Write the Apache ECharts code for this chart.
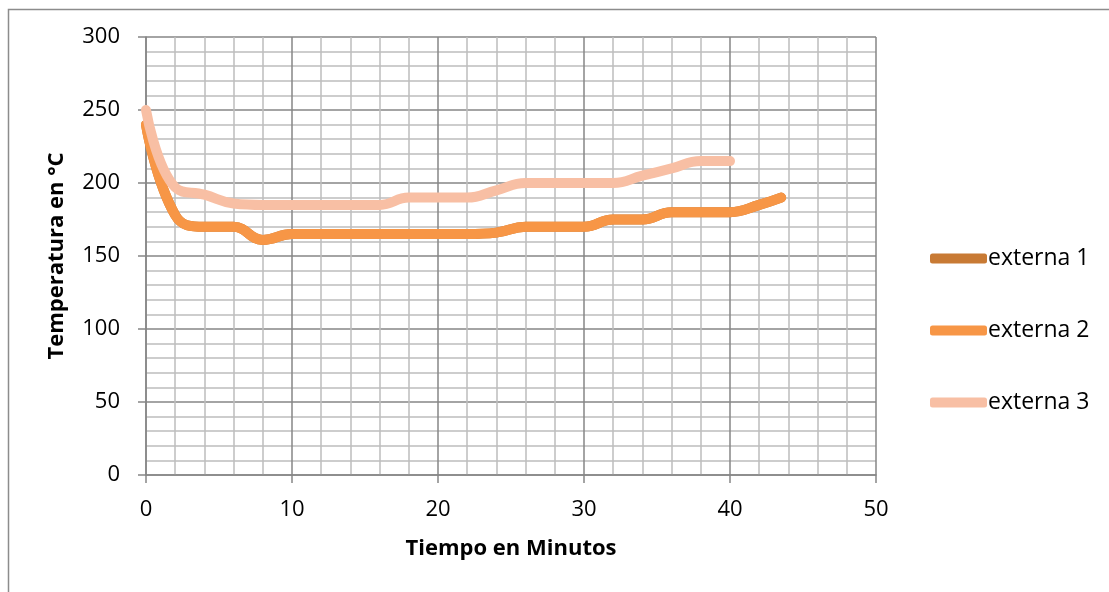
<!DOCTYPE html>
<html>
<head>
<meta charset="utf-8">
<script src="https://cdn.jsdelivr.net/npm/echarts@6/dist/echarts.min.js"></script>
<style>html,body{margin:0;padding:0;background:#fff}#c{width:1109px;height:592px}</style>
</head>
<body>
<div id="c"></div>
<script>
const seriesNames = ['externa 1', 'externa 2', 'externa 3'];
const timeA = [0, 2, 4, 6, 8, 10, 12, 14, 16, 18, 20, 22, 24, 26, 28, 30, 32, 34, 36, 38, 40, 42, 43.5];
const externa1 = [240, 178, 170, 170, 161, 165, 165, 165, 165, 165, 165, 165, 166, 170, 170, 170, 175, 175, 180, 180, 180, 185, 190];
const externa2 = [240, 178, 170, 170, 161, 165, 165, 165, 165, 165, 165, 165, 166, 170, 170, 170, 175, 175, 180, 180, 180, 185, 190];
const timeB = [0, 2, 4, 6, 8, 10, 12, 14, 16, 18, 20, 22, 24, 26, 28, 30, 32, 34, 36, 38, 40];
const externa3 = [250, 197, 192, 186, 185, 185, 185, 185, 185, 190, 190, 190, 195, 200, 200, 200, 200, 205, 210, 215, 215];
const xTicks = [0, 10, 20, 30, 40, 50];
const yTicks = [0, 50, 100, 150, 200, 250, 300];

const colors = ['#C87A34', '#F79646', '#F8BFA4'];
const pairs = (xs, ys) => xs.map((x, i) => [x, ys[i]]);
const font = '"Open Sans", "Noto Sans", sans-serif';
const fs = 22;

const chart = echarts.init(document.getElementById('c'), null, {renderer: 'canvas'});
chart.setOption({
  animation: false,
  backgroundColor: '#fff',
  graphic: [{
    type: 'rect', left: 6, top: 7, z: -1,
    shape: {width: 1120, height: 600},
    style: {fill: 'none', stroke: '#8c8c8c', lineWidth: 1.5}
  }],
  grid: {left: 146, right: 233, top: 37, bottom: 117},
  legend: {
    orient: 'vertical', left: 925, top: 242, itemGap: 49,
    itemWidth: 57, itemHeight: 10, icon: 'roundRect',
    textStyle: {fontFamily: font, fontSize: 23, color: '#000', padding: [0, 0, 0, -4]},
    data: seriesNames
  },
  xAxis: {
    type: 'value', min: 0, max: 50, interval: 10,
    name: 'Tiempo en Minutos', nameLocation: 'middle', nameGap: 63,
    nameTextStyle: {fontFamily: font, fontSize: fs, fontWeight: 'bold', color: '#000'},
    axisLine: {show: true, lineStyle: {color: '#868686', width: 1.5}},
    axisTick: {show: true, length: 8, lineStyle: {color: '#868686', width: 1.5}},
    axisLabel: {fontFamily: font, fontSize: fs, color: '#000', margin: 24,
      formatter: v => xTicks.includes(v) ? String(v) : ''},
    splitLine: {show: true, lineStyle: {color: '#868686', width: 1.5}},
    minorTick: {show: false, splitNumber: 5},
    minorSplitLine: {show: true, lineStyle: {color: '#BDBDBD', width: 1.5}}
  },
  yAxis: {
    type: 'value', min: 0, max: 300, interval: 50,
    name: 'Temperatura en °C', nameLocation: 'middle', nameGap: 78, nameRotate: 90,
    nameTextStyle: {fontFamily: font, fontSize: fs, fontWeight: 'bold', color: '#000'},
    axisLine: {show: true, lineStyle: {color: '#868686', width: 1.5}},
    axisTick: {show: true, length: 8, lineStyle: {color: '#868686', width: 1.5}},
    axisLabel: {fontFamily: font, fontSize: fs, color: '#000', margin: 26,
      formatter: v => yTicks.includes(v) ? String(v) : ''},
    splitLine: {show: true, lineStyle: {color: '#868686', width: 1.5}},
    minorTick: {show: false, splitNumber: 5},
    minorSplitLine: {show: true, lineStyle: {color: '#BDBDBD', width: 1.5}}
  },
  series: [
    {name: seriesNames[0], type: 'line', data: pairs(timeA, externa1), smooth: 0.45, showSymbol: false,
      color: colors[0], lineStyle: {width: 10, cap: 'round', join: 'round'}},
    {name: seriesNames[1], type: 'line', data: pairs(timeA, externa2), smooth: 0.45, showSymbol: false,
      color: colors[1], lineStyle: {width: 10, cap: 'round', join: 'round'}},
    {name: seriesNames[2], type: 'line', data: pairs(timeB, externa3), smooth: 0.45, showSymbol: false,
      color: colors[2], lineStyle: {width: 10, cap: 'round', join: 'round'}}
  ]
});
</script>
</body>
</html>
